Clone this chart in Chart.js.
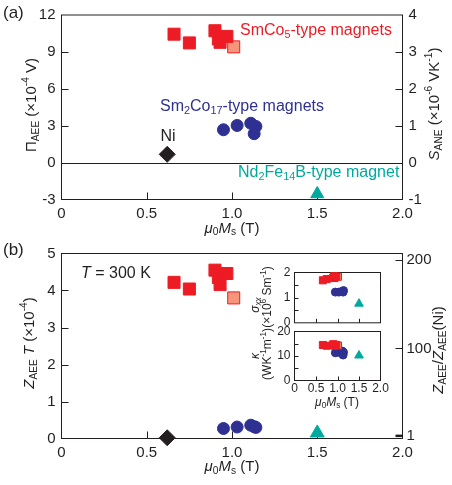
<!DOCTYPE html>
<html>
<head>
<meta charset="utf-8">
<script src="https://cdn.jsdelivr.net/npm/chart.js@4.4.1/dist/chart.umd.min.js"></script>
<style>
  body { margin: 0; background: #fff; }
  #wrap { position: relative; width: 452px; height: 485px; }
  canvas { position: absolute; }
</style>
</head>
<body>
<div id="wrap">
  <canvas id="chartA" width="452" height="240" style="left:0;top:0"></canvas>
  <canvas id="chartB" width="452" height="253" style="left:0;top:232px"></canvas>
  <canvas id="insetTop" width="160" height="76" style="left:240px;top:258px"></canvas>
  <canvas id="insetBot" width="160" height="94" style="left:240px;top:318px"></canvas>
</div>
<script>
// SmCo5-type magnets (dark squares)
const smco5Ms = [0.66, 0.75, 0.90, 0.92, 0.93, 0.97];
const smco5Pi = [10.44, 9.73, 10.72, 10.05, 9.78, 10.26];
const smco5ZT = [4.22, 4.04, 4.55, 4.35, 4.16, 4.46];
const smco5Sigma = [1.69, 1.74, 1.80, 1.85, 1.78, 1.84];
const smco5Kappa = [14.5, 14.2, 14.8, 14.6, 14.2, 14.5];
// SmCo5-type magnet (light square)
const smco5bMs = [1.01];
const smco5bPi = [9.41];
const smco5bZT = [3.80];
const smco5bSigma = [1.83];
const smco5bKappa = [14.3];
// Sm2Co17-type magnets
const sm2co17Ms = [0.95, 1.03, 1.11, 1.14, 1.13];
const sm2co17Pi = [2.67, 3.02, 3.20, 2.94, 2.35];
const sm2co17ZT = [0.27, 0.31, 0.36, 0.30, 0.32];
const sm2co17Sigma = [1.22, 1.22, 1.25, 1.28, 1.22];
const sm2co17Kappa = [11.3, 11.5, 12.0, 11.5, 10.4];
// Ni
const niMs = [0.62];
const niPi = [0.67];
const niZT = [0.02];
// Nd2Fe14B-type magnet
const ndMs = [1.50];
const ndPi = [-2.55];
const ndZT = [0.15];
const ndSigma = [0.76];
const ndKappa = [10.2];

// tick values and labels
const xTickVals = [0, 0.5, 1, 1.5, 2];
const xTickLabels = ['0', '0.5', '1.0', '1.5', '2.0'];
const piTickVals = [-3, 0, 3, 6, 9, 12];
const piTickLabels = ['-3', '0', '3', '6', '9', '12'];
const sTickVals = [-1, 0, 1, 2, 3, 4];
const sTickLabels = ['-1', '0', '1', '2', '3', '4'];
const ztTickVals = [0, 1, 2, 3, 4, 5];
const ztTickLabels = ['0', '1', '2', '3', '4', '5'];
const ratioTickVals = [1, 100, 200];
const ratioTickLabels = ['1', '100', '200'];
const sigmaTickVals = [0, 1, 2];
const sigmaTickLabels = ['0', '1', '2'];
const kappaTickVals = [0, 10, 20];
const kappaTickLabels = ['0', '10', '20'];

const INK = '#231f20', RED = '#ed1c24', PINK = '#f5967a', BLUE = '#2e3192', TEAL = '#00a99d';
const FONT = '"Liberation Sans", Arial, Helvetica, sans-serif';
Chart.defaults.font.family = FONT;
Chart.defaults.color = INK;

function pts(xs, ys) {
    return xs.map((x, i) => ({ x: x, y: ys[i] }));
}

function series(xs, ys, style, r, fill, edge) {
    return {
        data: pts(xs, ys),
        pointStyle: style,
        pointRadius: r,
        pointHoverRadius: r,
        backgroundColor: fill,
        borderColor: edge || fill,
        borderWidth: 1,
        clip: false
    };
}

// linear axis with fixed ticks and fixed thickness
function axis(pos, min, max, vals, labels, thick, pad, fontSize, showLabels) {
    return {
        type: 'linear',
        position: pos,
        min: min,
        max: max,
        grid: { display: false, drawTicks: false },
        border: { display: false },
        afterBuildTicks: s => { s.ticks = vals.map(v => ({ value: v })); },
        afterFit: s => {
            if (pos === 'bottom') s.height = thick; else s.width = thick;
        },
        ticks: {
            display: showLabels !== false,
            autoSkip: false,
            maxRotation: 0,
            padding: pad,
            color: INK,
            font: { size: fontSize },
            callback: (v, i) => labels[i]
        }
    };
}

// box, inward ticks, zero line
const framePlugin = {
    id: 'frame',
    beforeDatasetsDraw(chart, args, o) {
        const { ctx, chartArea: a, scales } = chart;
        ctx.save();
        ctx.strokeStyle = INK;
        ctx.lineWidth = 1;
        ctx.strokeRect(a.left, a.top, a.right - a.left, a.bottom - a.top);
        ctx.beginPath();
        (o.xTicks || []).forEach(v => {
            const px = Math.round(scales.x.getPixelForValue(v)) + 0.5;
            ctx.moveTo(px, a.bottom);
            ctx.lineTo(px, a.bottom - o.len);
        });
        (o.yTicks || []).forEach(v => {
            const py = Math.round(scales.y.getPixelForValue(v)) + 0.5;
            ctx.moveTo(a.left, py);
            ctx.lineTo(a.left + o.len, py);
        });
        (o.y2Ticks || []).forEach(v => {
            const py = Math.round(scales.y2.getPixelForValue(v)) + 0.5;
            ctx.moveTo(a.right, py);
            ctx.lineTo(a.right - o.len, py);
        });
        if (o.zeroLine) {
            const py = Math.round(scales.y.getPixelForValue(0)) + 0.5;
            ctx.moveTo(a.left, py);
            ctx.lineTo(a.right, py);
        }
        ctx.stroke();
        if (o.y2Thick) {
            ctx.lineWidth = 2.5;
            ctx.beginPath();
            o.y2Thick.forEach(v => {
                const py = scales.y2.getPixelForValue(v);
                ctx.moveTo(a.right, py);
                ctx.lineTo(a.right - o.len, py);
            });
            ctx.stroke();
        }
        ctx.restore();
    }
};

// text with italics, subscripts and superscripts
function drawRich(ctx, item) {
    const size = item.size || 15;
    ctx.save();
    ctx.translate(item.x, item.y);
    if (item.rot) ctx.rotate(item.rot);
    let total = 0;
    const segs = item.parts.map(p => {
        const t = p[0], s = p[1] || '';
        const small = s.includes('sub') || s.includes('sup');
        const fs = small ? size * 0.68 : size;
        const font = (s.includes('it') ? 'italic ' : '') + fs + 'px ' + FONT;
        ctx.font = font;
        const w = ctx.measureText(t).width;
        const dy = s.includes('sub') ? size * 0.26 : (s.includes('sup') ? -size * 0.36 : 0);
        total += w;
        return { t: t, font: font, w: w, dy: dy };
    });
    let cx = item.align === 'left' ? 0 : (item.align === 'right' ? -total : -total / 2);
    ctx.fillStyle = item.color || INK;
    ctx.textBaseline = 'middle';
    ctx.textAlign = 'left';
    segs.forEach(s => {
        ctx.font = s.font;
        ctx.fillText(s.t, cx, s.dy);
        cx += s.w;
    });
    ctx.restore();
}

const richPlugin = {
    id: 'rich',
    afterDraw(chart, args, o) {
        (o.items || []).forEach(it => drawRich(chart.ctx, it));
    }
};

const UP = -Math.PI / 2;
const msTitle = [['μ', 'it'], ['0', 'sub'], ['M', 'it'], ['s', 'sub'], [' (T)']];

function baseOptions(layoutPad, scales, frame, items) {
    return {
        responsive: false,
        animation: false,
        events: [],
        layout: { padding: layoutPad },
        plugins: {
            legend: { display: false },
            tooltip: { enabled: false },
            frame: frame,
            rich: { items: items }
        },
        scales: scales
    };
}

// panel (a)
new Chart(document.getElementById('chartA'), {
    type: 'scatter',
    data: {
        datasets: [
            series(smco5Ms, smco5Pi, 'rect', 8.5, RED),
            series(smco5bMs, smco5bPi, 'rect', 8.5, PINK, RED),
            series(sm2co17Ms, sm2co17Pi, 'circle', 6, BLUE),
            series(niMs, niPi, 'rectRot', 8, INK),
            series(ndMs, ndPi, 'triangle', 7.5, TEAL)
        ]
    },
    options: baseOptions({ top: 14.5, left: 0, right: 0, bottom: 0 }, {
        x: axis('bottom', 0, 2, xTickVals, xTickLabels, 40.5, 5, 15),
        y: axis('left', -3, 12, piTickVals, piTickLabels, 61.5, 6, 15),
        y2: axis('right', -1, 4, sTickVals, sTickLabels, 49.5, 6, 15)
    }, { len: 7, xTicks: [0.5, 1, 1.5], yTicks: [3, 6, 9], y2Ticks: [1, 2, 3], zeroLine: true }, [
        { x: 3, y: 13, size: 17, align: 'left', parts: [['(a)']] },
        { x: 32, y: 105, rot: UP, parts: [['Π'], ['AEE', 'sub'], [' (×10'], ['-4', 'sup'], [' V)']] },
        { x: 435, y: 104, rot: UP, parts: [['S', 'it'], ['ANE', 'sub'], [' (×10'], ['-6', 'sup'], [' VK'], ['-1', 'sup'], [')']] },
        { x: 232, y: 228.5, parts: msTitle },
        { x: 240, y: 31, size: 16, align: 'left', color: RED, parts: [['SmCo'], ['5', 'sub'], ['-type magnets']] },
        { x: 160, y: 107, size: 16, align: 'left', color: BLUE, parts: [['Sm'], ['2', 'sub'], ['Co'], ['17', 'sub'], ['-type magnets']] },
        { x: 168, y: 137, size: 16, parts: [['Ni']] },
        { x: 238, y: 173, size: 16, align: 'left', color: TEAL, parts: [['Nd'], ['2', 'sub'], ['Fe'], ['14', 'sub'], ['B-type magnet']] }
    ]),
    plugins: [framePlugin, richPlugin]
});

// panel (b)
new Chart(document.getElementById('chartB'), {
    type: 'scatter',
    data: {
        datasets: [
            series(smco5Ms, smco5ZT, 'rect', 8.5, RED),
            series(smco5bMs, smco5bZT, 'rect', 8.5, PINK, RED),
            series(sm2co17Ms, sm2co17ZT, 'circle', 6, BLUE),
            series(niMs, niZT, 'rectRot', 8, INK),
            series(ndMs, ndZT, 'triangle', 8, TEAL)
        ]
    },
    options: baseOptions({ top: 21.5, left: 0, right: 0, bottom: 0 }, {
        x: axis('bottom', 0, 2, xTickVals, xTickLabels, 46.5, 5, 15),
        y: axis('left', 0, 5, ztTickVals, ztTickLabels, 61.5, 6, 15),
        y2: axis('right', -2, 207.5, ratioTickVals, ratioTickLabels, 49.5, 4, 15)
    }, { len: 7, xTicks: [0.5, 1, 1.5], yTicks: [1, 2, 3, 4], y2Ticks: [100, 200], y2Thick: [1] }, [
        { x: 3, y: 18.7, size: 17, align: 'left', parts: [['(b)']] },
        { x: 81, y: 41.3, size: 16, align: 'left', parts: [['T', 'it'], [' = 300 K']] },
        { x: 30, y: 111, rot: UP, parts: [['Z', 'it'], ['AEE', 'sub'], [' '], ['T', 'it'], [' (×10'], ['-4', 'sup'], [')']] },
        { x: 439, y: 118, rot: UP, parts: [['Z', 'it'], ['AEE', 'sub'], ['/'], ['Z', 'it'], ['AEE', 'sub'], ['(Ni)']] },
        { x: 232, y: 235, parts: msTitle }
    ]),
    plugins: [framePlugin, richPlugin]
});

// inset: sigma_xx
new Chart(document.getElementById('insetTop'), {
    type: 'scatter',
    data: {
        datasets: [
            series(smco5Ms, smco5Sigma, 'rect', 5, RED),
            series(smco5bMs, smco5bSigma, 'rect', 5, PINK, RED),
            series(sm2co17Ms, sm2co17Sigma, 'circle', 4, BLUE),
            series(ndMs, ndSigma, 'triangle', 5, TEAL)
        ]
    },
    options: baseOptions({ top: 14.5, left: 0, right: 19.5, bottom: 0 }, {
        x: axis('bottom', 0, 2, xTickVals, xTickLabels, 10.5, 2, 12, false),
        y: axis('left', 0, 2, sigmaTickVals, sigmaTickLabels, 54.5, 4, 12)
    }, { len: 4, xTicks: [0.5, 1, 1.5], yTicks: [0.5, 1, 1.5] }, [
        { x: 16, y: 47, size: 12, rot: UP, parts: [['σ', 'it'], ['xx', 'itsub']] },
        { x: 28, y: 39, size: 12, rot: UP, parts: [['(×10'], ['6', 'sup'], [' Sm'], ['-1', 'sup'], [')']] }
    ]),
    plugins: [framePlugin, richPlugin]
});

// inset: kappa
new Chart(document.getElementById('insetBot'), {
    type: 'scatter',
    data: {
        datasets: [
            series(smco5Ms, smco5Kappa, 'rect', 5, RED),
            series(smco5bMs, smco5bKappa, 'rect', 5, PINK, RED),
            series(sm2co17Ms, sm2co17Kappa, 'circle', 4, BLUE),
            series(ndMs, ndKappa, 'triangle', 5, TEAL)
        ]
    },
    options: baseOptions({ top: 13.5, left: 0, right: 19.5, bottom: 0 }, {
        x: axis('bottom', 0, 2, xTickVals, xTickLabels, 31.5, 1, 12),
        y: axis('left', 0, 20, kappaTickVals, kappaTickLabels, 54.5, 4, 12)
    }, { len: 4, xTicks: [0.5, 1, 1.5], yTicks: [5, 10, 15] }, [
        { x: 16, y: 38, size: 12, rot: UP, parts: [['κ', 'it']] },
        { x: 28, y: 36, size: 12, rot: UP, parts: [['(WK'], ['-1', 'sup'], ['m'], ['-1', 'sup'], [')']] },
        { x: 97, y: 84.7, size: 12, parts: msTitle }
    ]),
    plugins: [framePlugin, richPlugin]
});
</script>
</body>
</html>
